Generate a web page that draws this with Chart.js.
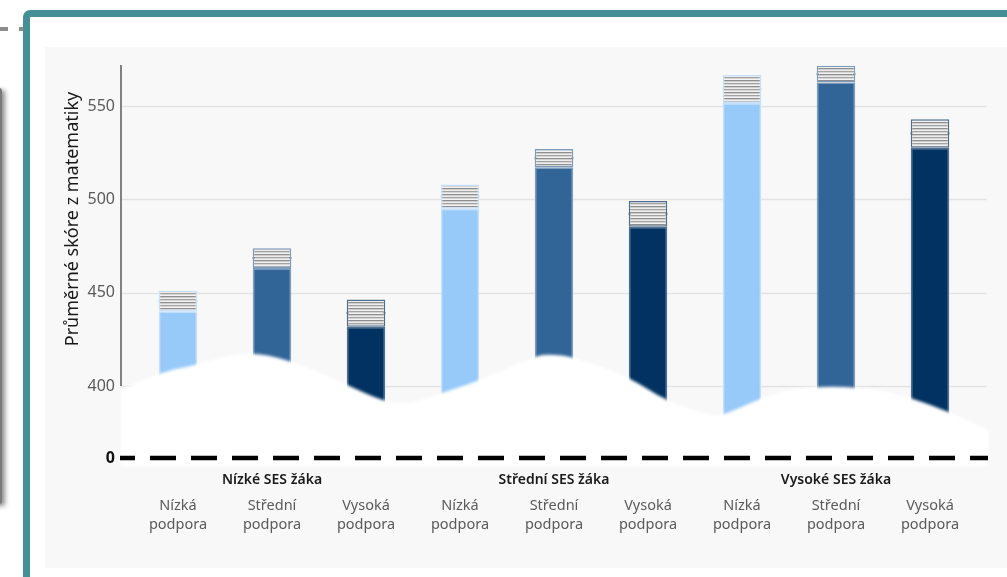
<!DOCTYPE html>
<html lang="cs">
<head>
<meta charset="utf-8">
<title>Průměrné skóre z matematiky</title>
<script src="https://cdn.jsdelivr.net/npm/chart.js@4.4.1/dist/chart.umd.min.js"></script>
<style>
  html, body { margin: 0; padding: 0; background: #fff; width: 1007px; height: 577px; overflow: hidden; position: relative; }
  .dash { position: absolute; top: 27px; height: 4px; background: #8c8c8c; }
  .side-card { position: absolute; left: -34px; top: 88px; width: 32px; height: 412px; border: 2px solid #7a7a7a; border-radius: 3px; box-shadow: 3px 2px 5px rgba(0,0,0,.45); background: #fff; }
  .frame { position: absolute; left: 23px; top: 10px; width: 1100px; height: 700px; border: 7px solid #468f97; border-radius: 7px; background: #fff; box-sizing: border-box; }
  .panel { position: absolute; left: 45px; top: 47px; width: 962px; height: 521px; background: #f8f8f8; }
</style>
</head>
<body>
<div class="dash" style="left:0;width:8px"></div>
<div class="dash" style="left:19px;width:5px"></div>
<div class="side-card"></div>
<div class="frame"></div>
<div class="panel"><canvas id="chart" width="962" height="521"></canvas></div>

<script>
/* ── Data ─────────────────────────────────────────────────────── */
const SES_GROUPS     = ['Nízké SES žáka', 'Střední SES žáka', 'Vysoké SES žáka'];
const SUPPORT_LEVELS = ['Nízká podpora', 'Střední podpora', 'Vysoká podpora'];
const MEAN_SCORE     = [445.5, 468.5, 439.1, 501.5, 522.1, 492.2, 559.1, 567.1, 535.3];
const CI_HALF        = [5.5,   5.3,   7.3,   6.5,   4.9,   6.9,   7.5,   4.5,   7.6];
const Y_TICKS        = [400, 450, 500, 550];
const AXIS_FLOOR     = 361.4;   // přerušená osa: tady se kreslí "0"
const AXIS_TOP       = 572;

// Bílá "vlna" přes přerušenou část osy: [pozice kategorie, hodnota]
const WAVE = [
    [-0.61, 397.9], [-0.19, 407.5], [0.20, 411.2], [0.71, 418.7], [1.20, 413.9],
    [1.80, 400.5], [2.20, 391.4], [2.47, 390.4], [2.80, 396.3], [3.20, 402.7],
    [3.80, 416.1], [3.96, 417.1], [4.21, 415.5], [4.80, 404.8], [5.21, 391.4],
    [5.70, 383.9], [5.80, 384.5], [6.21, 393.6], [6.51, 398.4], [6.99, 400.0],
    [7.47, 397.9], [7.80, 393.6], [8.21, 386.1], [8.62, 376.4]
];

const BAR_COLORS  = ['#97c9f9', '#326597', '#013261'];
const EDGE_COLORS = ['#c4e0fb', '#7d9bbb', '#4f6d8d'];
const FONT = "'Noto Sans', sans-serif";

Chart.defaults.font.family = FONT;

/* ── Popisky os ───────────────────────────────────────────────── */
const labels = [];
const groupRow = [];
SES_GROUPS.forEach(ses => {
    SUPPORT_LEVELS.forEach((s, j) => {
        labels.push(s.split(' '));
        groupRow.push(j === 1 ? ses : '');
    });
});
const fill = labels.map((_, i) => BAR_COLORS[i % 3]);
const edge = labels.map((_, i) => EDGE_COLORS[i % 3]);

const canvas = document.getElementById('chart');
const ctx2d = canvas.getContext('2d');

// Šrafování pro interval spolehlivosti
function stripePattern() {
    const c = document.createElement('canvas');
    c.width = 4; c.height = 6;
    const g = c.getContext('2d');
    ['#a3a3a3', '#d6d6d6', '#f2f2f2', '#8e8e8e', '#cfcfcf', '#ececec'].forEach((col, i) => {
        g.fillStyle = col;
        g.fillRect(0, i, 4, 1);
    });
    return ctx2d.createPattern(c, 'repeat');
}
const stripes = stripePattern();

/* ── Mřížka, osa, vlna a nulová čára ─────────────────────────── */
const decor = {
    id: 'decor',
    beforeDatasetsDraw(chart) {
        const { ctx, chartArea, scales: { y } } = chart;
        const axisX = chartArea.left - 10;
        ctx.save();
        ctx.strokeStyle = '#e3e3e3';
        ctx.lineWidth = 1.5;
        Y_TICKS.forEach(v => {
            const py = Math.round(y.getPixelForValue(v)) + 0.5;
            ctx.beginPath();
            ctx.moveTo(axisX, py);
            ctx.lineTo(chartArea.right + 10, py);
            ctx.stroke();
        });
        ctx.strokeStyle = '#5a5a5a';
        ctx.lineWidth = 1.5;
        ctx.beginPath();
        ctx.moveTo(axisX, chartArea.top);
        ctx.lineTo(axisX, y.getPixelForValue(Y_TICKS[0]));
        ctx.stroke();
        ctx.restore();
    },
    afterDatasetsDraw(chart) {
        const { ctx, chartArea, scales: { x, y } } = chart;
        const x0 = x.getPixelForValue(0);
        const step = x.getPixelForValue(1) - x0;
        const pts = WAVE.map(([i, v]) => [x0 + i * step, y.getPixelForValue(v)]);
        const floorY = y.getPixelForValue(AXIS_FLOOR);
        const last = pts[pts.length - 1];

        ctx.save();
        ctx.filter = 'blur(1.5px)';
        ctx.fillStyle = '#ffffff';
        ctx.beginPath();
        ctx.moveTo(pts[0][0], floorY + 8);
        ctx.lineTo(pts[0][0], pts[0][1]);
        for (let i = 1; i < pts.length - 1; i++) {
            const mx = (pts[i][0] + pts[i + 1][0]) / 2;
            const my = (pts[i][1] + pts[i + 1][1]) / 2;
            ctx.quadraticCurveTo(pts[i][0], pts[i][1], mx, my);
        }
        ctx.lineTo(last[0], last[1]);
        ctx.lineTo(last[0], floorY + 8);
        ctx.closePath();
        ctx.fill();
        ctx.restore();

        // nulová čára přerušené osy
        ctx.save();
        ctx.strokeStyle = '#000';
        ctx.lineWidth = 4.5;
        ctx.setLineDash([26, 15]);
        ctx.lineDashOffset = 11;
        ctx.beginPath();
        ctx.moveTo(chartArea.left - 11, floorY);
        ctx.lineTo(chartArea.right + 11, floorY);
        ctx.stroke();
        ctx.restore();
    },
    afterDraw(chart) {
        const { ctx } = chart;
        ctx.save();
        ctx.translate(28, 172);
        ctx.rotate(-Math.PI / 2);
        ctx.font = '18px ' + FONT;
        ctx.fillStyle = '#1a1a1a';
        ctx.textAlign = 'center';
        ctx.textBaseline = 'middle';
        ctx.fillText('Průměrné skóre z matematiky', 0, 0);
        ctx.restore();
    }
};

const barBase = { grouped: false, barPercentage: 0.41, categoryPercentage: 1 };

new Chart(canvas, {
    type: 'bar',
    data: {
        labels,
        datasets: [
            {
                ...barBase,
                label: 'Průměr',
                data: MEAN_SCORE.map((m, i) => m - CI_HALF[i]),
                backgroundColor: fill,
                borderColor: edge,
                borderWidth: 1.5
            },
            {
                ...barBase,
                label: 'Interval spolehlivosti',
                data: MEAN_SCORE.map((m, i) => [m - CI_HALF[i], m + CI_HALF[i]]),
                backgroundColor: stripes,
                borderColor: edge,
                borderWidth: 1.5,
                borderSkipped: false
            },
            {
                ...barBase,
                label: 'Odhad',
                data: MEAN_SCORE.map(m => [m - 0.6, m + 0.6]),
                backgroundColor: fill,
                borderWidth: 0
            }
        ]
    },
    options: {
        responsive: false,
        animation: false,
        layout: { padding: { top: 18, right: 30, left: 0, bottom: 0 } },
        plugins: {
            legend: { display: false },
            tooltip: { enabled: false }
        },
        scales: {
            x: {
                weight: 1,
                grid: { display: false, drawTicks: false },
                border: { display: false },
                ticks: {
                    color: '#5a5a5a',
                    font: { size: 14.5, lineHeight: 1.32 },
                    padding: 5,
                    maxRotation: 0,
                    autoSkip: false
                },
                afterFit: s => { s.height = 77; }
            },
            xg: {
                type: 'category',
                labels: groupRow,
                position: 'bottom',
                weight: 0,
                grid: { display: false, drawTicks: false },
                border: { display: false },
                ticks: {
                    color: '#1a1a1a',
                    font: { size: 14, weight: '600' },
                    padding: 14,
                    maxRotation: 0,
                    autoSkip: false
                },
                afterFit: s => { s.height = 33; }
            },
            y: {
                min: AXIS_FLOOR,
                max: AXIS_TOP,
                grid: { display: false, drawTicks: false },
                border: { display: false },
                afterBuildTicks: s => {
                    s.ticks = [AXIS_FLOOR, ...Y_TICKS].map(v => ({ value: v }));
                },
                afterFit: s => {
                    s.width = 86;
                    s.paddingTop = 0;
                    s.paddingBottom = 0;
                },
                ticks: {
                    padding: 16,
                    color: c => (c.tick && c.tick.value === AXIS_FLOOR) ? '#111' : '#5a5a5a',
                    font: c => ({ size: 16, weight: (c.tick && c.tick.value === AXIS_FLOOR) ? 'bold' : 'normal' }),
                    callback: v => v === AXIS_FLOOR ? '0' : v
                }
            }
        }
    },
    plugins: [decor]
});
</script>
</body>
</html>
